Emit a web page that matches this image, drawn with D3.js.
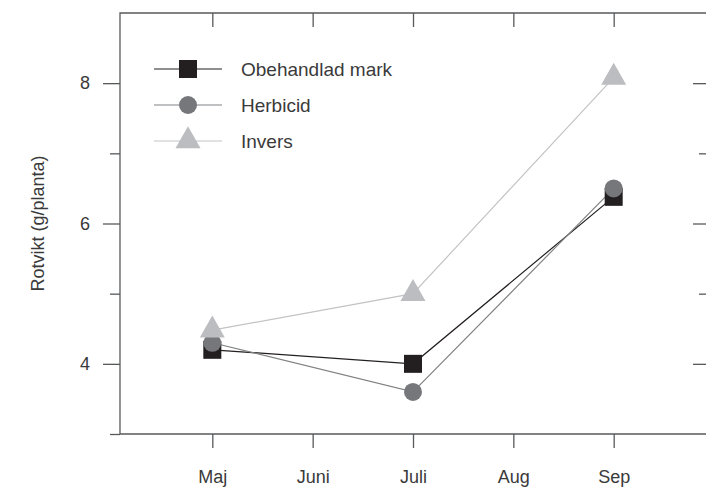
<!DOCTYPE html>
<html>
  <head>
    <meta charset="utf-8">
    <title>Rotvikt</title>
    <style>
      body { margin: 0; background: #fff; overflow: hidden; }
      svg { display: block; }
      text { font-family: "Liberation Sans", Arial, sans-serif; fill: #3a3a3a; }
    </style>
    <script src="https://cdn.jsdelivr.net/npm/d3@7"></script>
  </head>
  <body>
    <svg id="chart" width="706" height="488"></svg>
    <script>
      // data
      var months = ["Maj", "Juni", "Juli", "Aug", "Sep"];
      var sampleMonths = [0, 2, 4];            // index into months
      var obehandlad = [4.2, 4.0, 6.38];
      var herbicid   = [4.3, 3.6, 6.5];
      var invers     = [4.48, 5.0, 8.08];
      var seriesNames = ["Obehandlad mark", "Herbicid", "Invers"];
      var yMajor = [4, 6, 8];
      var yMinor = [3, 5, 7];

      (function() {
        var svg = d3.select("#chart");
        var pLeft = 120, pRight = 706, pTop = 13, pBottom = 434;

        var x = d3.scaleLinear().domain([-0.92, 4.92]).range([pLeft, pRight]);
        var y = d3.scaleLinear().domain([3, 9]).range([pBottom, pTop]);

        var axisColor = "#58595b";
        var textColor = "#3a3a3a";

        // frame (open at right)
        svg.append("path")
           .attr("d", "M" + pRight + "," + pTop + "H" + pLeft + "V" + pBottom + "H" + pRight)
           .attr("fill", "none")
           .attr("stroke", axisColor)
           .attr("stroke-width", 1.3);

        // bottom axis
        var xb = svg.append("g").attr("transform", "translate(0," + pBottom + ")")
                    .call(d3.axisBottom(x).tickValues(d3.range(months.length))
                            .tickSize(14).tickPadding(22)
                            .tickFormat(function(d) { return months[d]; }));
        // top ticks
        var xt = svg.append("g").attr("transform", "translate(0," + pTop + ")")
                    .call(d3.axisBottom(x).tickValues(d3.range(months.length))
                            .tickSize(14).tickFormat(""));
        // left axis
        var yl = svg.append("g").attr("transform", "translate(" + pLeft + ",0)")
                    .call(d3.axisLeft(y).tickValues(yMajor).tickSize(17).tickPadding(13)
                            .tickFormat(d3.format("d")));
        var ylm = svg.append("g").attr("transform", "translate(" + pLeft + ",0)")
                     .call(d3.axisLeft(y).tickValues(yMinor).tickSize(10).tickFormat(""));
        // right ticks (inward)
        var yr = svg.append("g").attr("transform", "translate(" + pRight + ",0)")
                    .call(d3.axisLeft(y).tickValues(yMajor).tickSize(13).tickFormat(""));
        var yrm = svg.append("g").attr("transform", "translate(" + pRight + ",0)")
                     .call(d3.axisLeft(y).tickValues([5, 7]).tickSize(7).tickFormat(""));

        [xb, xt, yl, ylm, yr, yrm].forEach(function(g) {
          g.select(".domain").remove();
          g.selectAll(".tick line").attr("stroke", axisColor).attr("stroke-width", 1.3);
          g.selectAll("text").attr("font-size", 18).attr("fill", textColor)
           .attr("font-family", "Liberation Sans, Arial, sans-serif");
        });

        svg.append("text")
           .attr("transform", "translate(44," + ((pTop + pBottom) / 2) + ") rotate(-90)")
           .attr("text-anchor", "middle")
           .attr("font-size", 18)
           .text("Rotvikt (g/planta)");

        // series
        var series = [
          { name: seriesNames[0], values: obehandlad, line: "#231f20", fill: "#231f20", shape: "square" },
          { name: seriesNames[1], values: herbicid,   line: "#808285", fill: "#76777a", shape: "circle" },
          { name: seriesNames[2], values: invers,     line: "#c2c3c5", fill: "#bcbdc0", shape: "triangle" }
        ];

        var line = d3.line()
                     .x(function(d, i) { return x(sampleMonths[i]); })
                     .y(function(d) { return y(d); });

        series.forEach(function(s) {
          svg.append("path")
             .attr("d", line(s.values))
             .attr("fill", "none")
             .attr("stroke", s.line)
             .attr("stroke-width", 1.2);
        });

        function marker(g, s) {
          if (s.shape === "square") {
            g.append("rect").attr("x", -9).attr("y", -9).attr("width", 18).attr("height", 18)
             .attr("fill", s.fill);
          } else if (s.shape === "circle") {
            g.append("circle").attr("r", 9).attr("fill", s.fill);
          } else {
            g.append("path").attr("d", "M0,-14.7L12.5,7.3L-12.5,7.3Z").attr("fill", s.fill);
          }
        }

        series.forEach(function(s) {
          s.values.forEach(function(v, i) {
            var g = svg.append("g")
                       .attr("transform", "translate(" + x(sampleMonths[i]) + "," + y(v) + ")");
            marker(g, s);
          });
        });

        // legend
        var legend = svg.append("g").attr("transform", "translate(154,69)");
        series.forEach(function(s, i) {
          var row = legend.append("g").attr("transform", "translate(0," + (i * 36) + ")");
          row.append("line").attr("x1", 0).attr("x2", 68)
             .attr("stroke", s.line).attr("stroke-width", 1.2);
          var m = row.append("g").attr("transform", "translate(34,0)");
          marker(m, s);
          row.append("text").attr("x", 87).attr("dy", "0.35em")
             .attr("font-size", 19).text(s.name);
        });
      })();
    </script>
  </body>
</html>
